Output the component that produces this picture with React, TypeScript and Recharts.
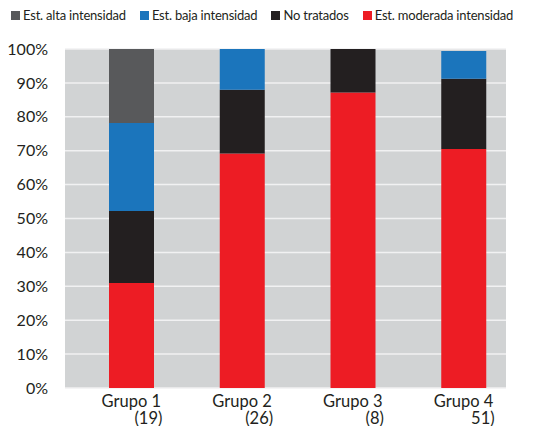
import * as React from "react";
import { Bar, BarChart, CartesianGrid, Legend, XAxis, YAxis } from "recharts";

const groups = ["Grupo 1", "Grupo 2", "Grupo 3", "Grupo 4"];
const counts = ["(19)", "(26)", "(8)", "51)"];
const moderada = [31, 69.2, 87.2, 70.5];
const noTratados = [21.2, 18.8, 12.8, 20.7];
const baja = [26, 12, 0, 8.2];
const alta = [21.8, 0, 0, 0];
const yTicks = [0, 10, 20, 30, 40, 50, 60, 70, 80, 90, 100];

const SERIES = [
  { key: "alta", name: "Est. alta intensidad", color: "#58595b" },
  { key: "baja", name: "Est. baja intensidad", color: "#1b75bc" },
  { key: "noTratados", name: "No tratados", color: "#231f20" },
  { key: "moderada", name: "Est. moderada intensidad", color: "#ed1c24" },
];

const FONT = "Lato, 'Open Sans', sans-serif";
const TEXT = "#231f20";

const data = groups.map((g, i) => ({
  group: g,
  count: counts[i],
  moderada: moderada[i],
  noTratados: noTratados[i],
  baja: baja[i],
  alta: alta[i],
}));

function LegendRow() {
  return (
    <div
      style={{
        display: "flex",
        height: 30,
        alignItems: "center",
        paddingLeft: 11,
        fontFamily: FONT,
        fontSize: 13,
        letterSpacing: -0.2,
        color: TEXT,
        whiteSpace: "nowrap",
      }}
    >
      {SERIES.map((s) => (
        <div key={s.key} style={{ display: "flex", alignItems: "center", marginRight: 14 }}>
          <span style={{ width: 9, height: 9, background: s.color, marginRight: 3 }} />
          <span>{s.name}</span>
        </div>
      ))}
    </div>
  );
}

function GroupTick(props: any) {
  const { x, y, payload, index } = props;
  return (
    <g transform={`translate(${x},${y})`}>
      <text x={0} y={11} textAnchor="middle" fill={TEXT} fontSize={16.5} fontFamily={FONT}>
        {payload.value}
      </text>
      <text x={31} y={27.5} textAnchor="end" fill={TEXT} fontSize={16.5} fontFamily={FONT}>
        {counts[index]}
      </text>
    </g>
  );
}

export default function App() {
  return (
    <div style={{ margin: -8, width: 537, height: 434, background: "#fff" }}>
      <BarChart
        width={537}
        height={434}
        data={data}
        margin={{ top: 19, right: 31, bottom: 0, left: 0 }}
        barSize={45}
      >
        <Legend
          verticalAlign="top"
          content={() => <LegendRow />}
          wrapperStyle={{ top: 0, left: 0, width: 537 }}
        />
        <CartesianGrid
          vertical={false}
          fill="#d1d3d4"
          stroke="#f1f1f2"
          strokeWidth={1.5}
        />
        <XAxis
          dataKey="group"
          axisLine={false}
          tickLine={false}
          height={46}
          padding={{ left: 11, right: -13 }}
          tick={<GroupTick />}
          interval={0}
        />
        <YAxis
          domain={[0, 100]}
          ticks={yTicks}
          width={65}
          axisLine={false}
          tickLine={false}
          tickMargin={11}
          tickFormatter={(v: number) => `${v}%`}
          tick={{ fill: TEXT, fontSize: 16, fontFamily: FONT }}
        />
        {[...SERIES].reverse().map((s) => (
          <Bar
            key={s.key}
            dataKey={s.key}
            name={s.name}
            stackId="a"
            fill={s.color}
            isAnimationActive={false}
          />
        ))}
      </BarChart>
    </div>
  );
}
